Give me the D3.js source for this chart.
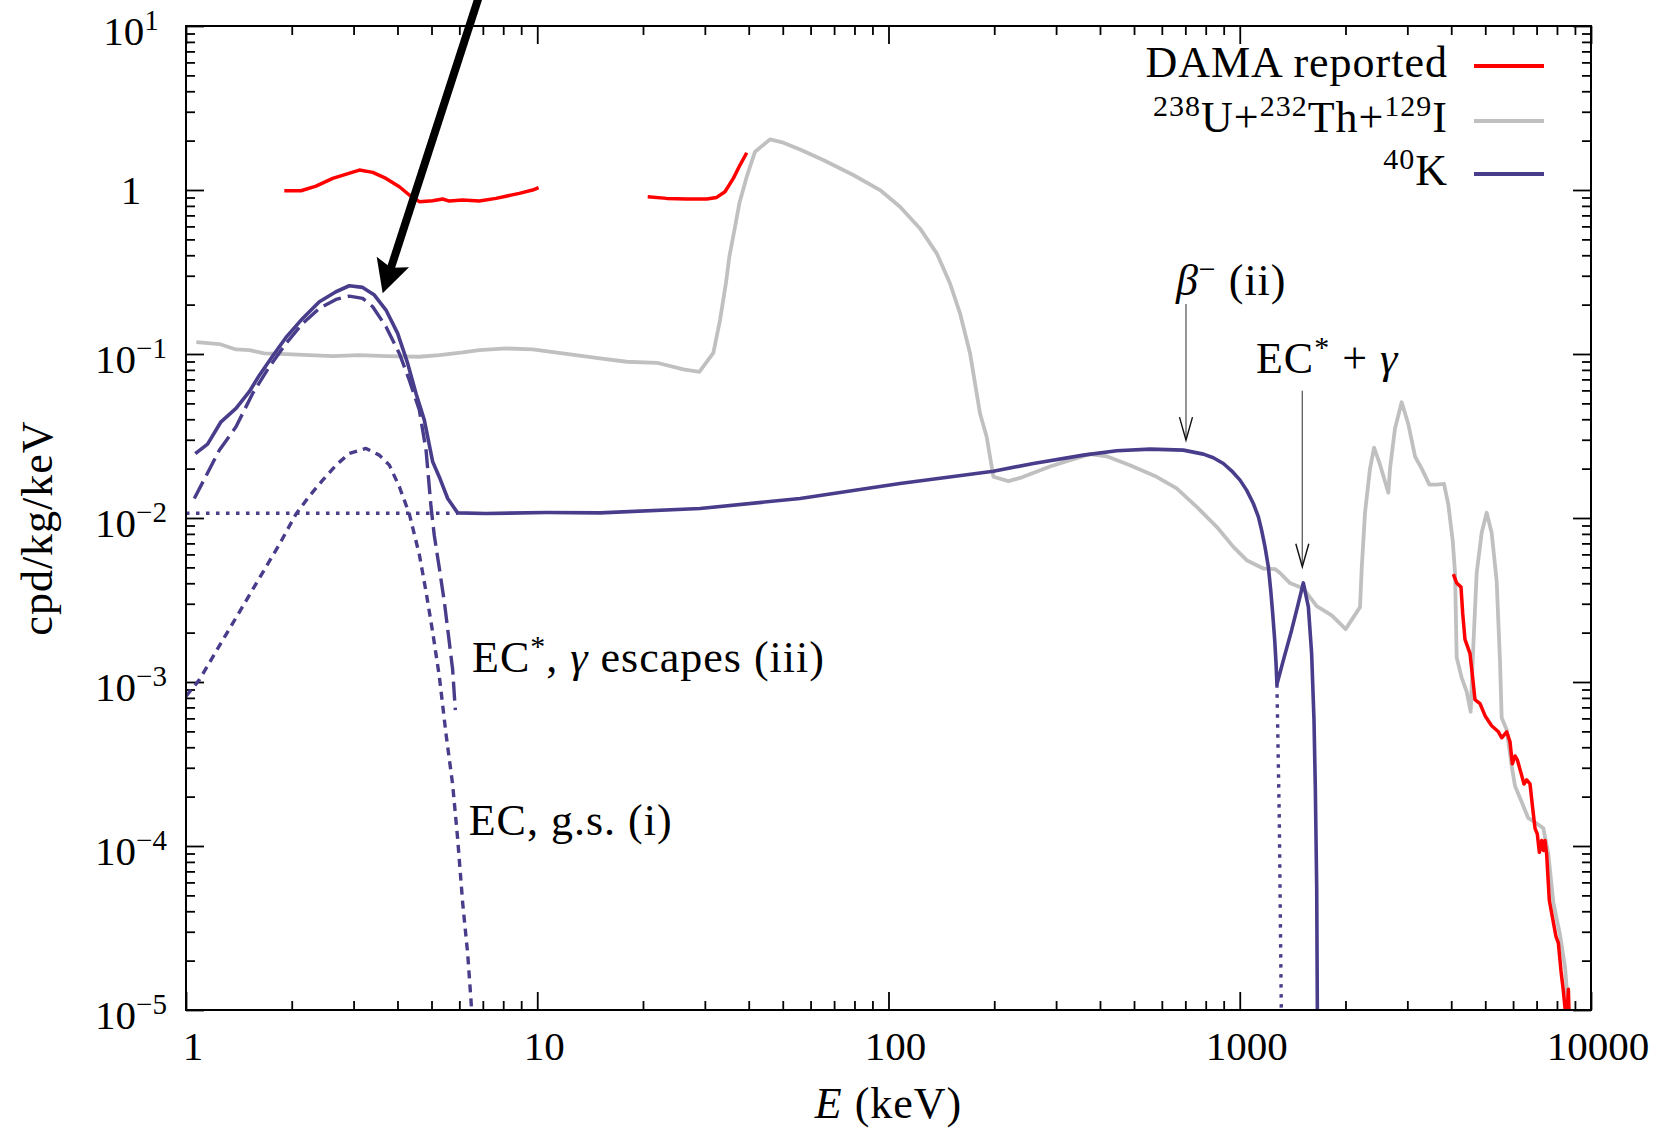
<!DOCTYPE html>
<html>
<head>
<meta charset="utf-8">
<script src="https://cdn.jsdelivr.net/npm/d3@7"></script>
<style>
  html, body { margin: 0; padding: 0; background: #fff; }
  svg { display: block; font-family: "Liberation Serif", "DejaVu Serif", serif; }
</style>
</head>
<body>
<script>
// ---- data (E in keV, rate in cpd/kg/keV) ----
const damaLow = [[1.905,0.990],[2.125,0.990],[2.345,1.057],[2.616,1.177],[3.116,1.323],[3.401,1.281],
  [3.71,1.177],[4.05,1.047],[4.323,0.932],[4.616,0.849],[5.039,0.860],[5.379,0.881],[5.62,0.856],
  [6.133,0.868],[6.84,0.856],[7.63,0.889],[8.89,0.954],[9.70,0.999],[10.09,1.033]];
const damaMid = [[20.63,0.910],[23.36,0.889],[26.63,0.881],[30.37,0.881],[32.42,0.901],[34.23,0.976],
  [36.16,1.177],[37.78,1.419],[39.48,1.688]];
const damaHigh = [[4056,0.00454],[4147,0.00401],[4265,0.00379],[4312,0.00263],[4377,0.00182],[4523,0.001494],
  [4603,0.001065],[4674,0.000781],[4831,0.000738],[4992,0.000623],[5214,0.000541],[5449,0.000497],
  [5568,0.000457],[5754,0.000497],[5880,0.000432],[5970,0.000317],[6077,0.000354],[6171,0.000335],
  [6307,0.000283],[6447,0.000239],[6560,0.000253],[6705,0.000239],[6823,0.00017],[6928,0.000128],
  [7034,0.000118],[7127,0.0000915],[7238,0.000108],[7317,0.000094],[7396,0.000108],[7478,0.0000889],
  [7610,0.0000465],[7778,0.0000361],[7950,0.000028],[8072,0.0000257],[8214,0.0000173],[8342,0.0000131],
  [8452,0.0000098],[8560,0.0000098],[8620,0.0000134],[8680,0.000008]];

const uThI = [[1.07,0.118],[1.244,0.115],[1.388,0.1066],[1.514,0.1057],[1.671,0.1008],[1.926,0.0999],
  [2.616,0.0971],[3.116,0.0985],[3.71,0.0971],[4.616,0.0962],[5.262,0.0985],[6.133,0.1022],[6.84,0.1057],
  [8.15,0.1081],[9.70,0.1066],[15.09,0.0939],[17.97,0.0897],[21.9,0.0884],[26.06,0.0805],[28.94,0.0779],
  [31.72,0.1017],[33.14,0.161],[34.46,0.272],[35.23,0.392],[36.57,0.597],[37.62,0.829],[39.48,1.205],
  [41.69,1.712],[46.0,2.035],[50.2,1.943],[56.0,1.768],[65.2,1.523],[79.4,1.234],[94.6,0.999],
  [107.8,0.791],[122.9,0.583],[137.2,0.411],[149.7,0.269],[159.8,0.177],[170.7,0.1008],[182.2,0.0434],
  [190.3,0.0313],[198.9,0.01784],[219.4,0.0168],[240,0.0177],[288.3,0.0206],[328.6,0.02253],
  [374.7,0.02452],[417.9,0.0238],[487,0.0210],[580,0.01784],[661.5,0.01514],[754.2,0.0117],
  [859.7,0.00884],[959,0.00667],[1046,0.00553],[1167,0.00492],[1260,0.00488],[1302,0.00462],
  [1390,0.00401],[1517,0.00372],[1656,0.0029],[1827,0.00255],[2002,0.0021],[2200,0.00286],
  [2224,0.00489],[2273,0.01076],[2349,0.02002],[2412,0.02686],[2507,0.0212],[2649,0.01427],
  [2678,0.02002],[2767,0.0352],[2891,0.0508],[3020,0.03727],[3155,0.02372],[3296,0.02002],
  [3466,0.01599],[3636,0.01599],[3815,0.01617],[3925,0.01205],[4039,0.00726],[4101,0.00462],
  [4146,0.00141],[4283,0.001065],[4426,0.000874],[4544,0.000659],[4624,0.00167],[4726,0.00462],
  [4884,0.00812],[5047,0.01076],[5214,0.00812],[5388,0.00413],[5507,0.001335],[5568,0.000606],
  [5754,0.000511],[5946,0.000308],[6077,0.000232],[6280,0.000196],[6631,0.0001478],[6928,0.0001397],
  [7317,0.0001284],[7560,0.0000889],[7814,0.0000452],[8160,0.0000288],[8433,0.0000183],[8700,0.000008]];

// 40K: total (solid), EC* with gamma escape (dashed), EC to ground state and beta- (dotted)
const k40Total = [[1.063,0.0247],[1.152,0.0282],[1.258,0.0386],[1.388,0.0466],[1.514,0.0589],[1.618,0.0743],
  [1.765,0.0971],[1.926,0.1262],[2.148,0.1648],[2.397,0.2083],[2.673,0.2396],[2.917,0.2607],[3.184,0.2547],
  [3.438,0.2287],[3.71,0.1853],[4.005,0.1335],[4.277,0.0876],[4.517,0.0575],[4.77,0.0395],[5.039,0.022],
  [5.262,0.0178],[5.559,0.01315],[5.934,0.01075],[7.146,0.01066],[10.59,0.0108],[15.09,0.01075],
  [29.07,0.01143],[56.0,0.01315],[107.8,0.01623],[198.9,0.0193],[258.5,0.0215],[358.6,0.02417],
  [446.3,0.02569],[555.3,0.02629],[690.9,0.02593],[787.8,0.02452],[841,0.02329],[898.2,0.0215],
  [948,0.0194],[1001.7,0.01702],[1046,0.01479],[1093,0.01226],[1130,0.01017],[1154,0.00843],
  [1180,0.00667],[1206,0.00504],[1225,0.00363],[1241,0.00262],[1257.5,0.0018],[1268.6,0.0013],
  [1276,0.00097],[1331,0.00136],[1405,0.00207],[1468,0.00301],[1517,0.00402],[1568,0.00287],
  [1602,0.00149],[1627,0.000585],[1641,0.000229],[1656,0.0000563],[1663,0.0000102],[1665,0.000005]];
const k40Escape = [[1.056,0.01315],[1.244,0.0259],[1.388,0.036],[1.548,0.0575],[1.727,0.0836],[1.926,0.116],
  [2.148,0.1536],[2.397,0.1897],[2.673,0.2152],[2.917,0.2255],[3.184,0.2183],[3.401,0.1942],[3.71,0.1466],
  [4.05,0.1008],[4.323,0.0693],[4.616,0.0455],[4.824,0.0259],[4.984,0.0117],[5.093,0.0078],[5.262,0.00495],
  [5.439,0.00308],[5.62,0.00174],[5.743,0.00119],[5.845,0.000674]];
const k40Ground = [[1.0,0.00082],[1.091,0.00103],[1.244,0.00166],[1.419,0.00267],[1.618,0.0043],[1.844,0.0069],
  [2.057,0.01058],[2.244,0.0136],[2.45,0.01702],[2.673,0.021],[2.917,0.02474],[3.254,0.02655],[3.55,0.02417],
  [3.793,0.021],[4.05,0.0155],[4.323,0.01058],[4.616,0.00599],[4.824,0.00355],[5.039,0.00201],
  [5.262,0.001084],[5.498,0.000483],[5.743,0.000237],[5.934,0.000111],[6.133,0.000045],[6.337,0.0000221],
  [6.478,0.0000114],[6.52,0.000009]];
const k40BetaLow = [[1.0,0.0107],[5.93,0.0107]];
const k40BetaEnd = [[1276,0.00097],[1296,0.000144],[1313,0.0000102],[1315,0.000005]];

// tick values
const xMajor = [1, 10, 100, 1000, 10000];
const yMajor = [1e-5, 1e-4, 1e-3, 1e-2, 1e-1, 1, 10];
const yExp = [-5, -4, -3, -2, -1, 0, 1];
const legendLabels = ["DAMA reported", "238U+232Th+129I", "40K"];

// annotation arrows: [E, top value, tip value]
const betaArrow = [703, 0.2016, 0.02985];
const gammaArrow = [1507, 0.0597, 0.00504];
const bigArrow = [[6.92, 16.6], [3.63, 0.2343]];

const width = 1657, height = 1129;
const pLeft = 186, pRight = 1591, pTop = 26, pBottom = 1010;
const blue = "#483d8b", gray = "#c0c0c0", red = "#ff0000";

const x = d3.scaleLog().domain([1, 10000]).range([pLeft, pRight]);
const y = d3.scaleLog().domain([1e-5, 10]).range([pBottom, pTop]);

const minorX = [];
for (let d = 1; d < 10000; d *= 10) for (let k = 2; k <= 9; k++) minorX.push(d * k);
const minorY = [];
for (let e = -5; e < 1; e++) for (let k = 2; k <= 9; k++) minorY.push(k * Math.pow(10, e));

const svg = d3.select('body').append('svg')
  .attr('width', width)
  .attr('height', height);

svg.append('clipPath').attr('id', 'plot')
  .append('rect').attr('x', pLeft).attr('y', pTop)
  .attr('width', pRight - pLeft).attr('height', pBottom - pTop);

// ticks, all pointing inwards
function ticks(axis, tx, ty, values, size) {
  const g = svg.append('g')
    .attr('transform', `translate(${tx},${ty})`)
    .call(axis.tickValues(values).tickSizeInner(-size).tickSizeOuter(0).tickFormat(''));
  g.select('.domain').remove();
  g.selectAll('line').attr('stroke', '#000').attr('stroke-width', 1.8);
  return g;
}
ticks(d3.axisBottom(x), 0, pBottom, xMajor, 18);
ticks(d3.axisBottom(x), 0, pBottom, minorX, 9);
ticks(d3.axisTop(x), 0, pTop, xMajor, 18);
ticks(d3.axisTop(x), 0, pTop, minorX, 9);
ticks(d3.axisLeft(y), pLeft, 0, yMajor, 18);
ticks(d3.axisLeft(y), pLeft, 0, minorY, 9);
ticks(d3.axisRight(y), pRight, 0, yMajor, 18);
ticks(d3.axisRight(y), pRight, 0, minorY, 9);

// x tick labels
svg.append('g').selectAll('text')
  .data(xMajor)
  .enter()
  .append('text')
  .attr('x', d => x(d) + 7)
  .attr('y', pBottom + 50)
  .attr('text-anchor', 'middle')
  .attr('font-size', 41)
  .text(d => d);

// y tick labels with superscript exponent
const yl = svg.append('g').selectAll('text')
  .data(yMajor)
  .enter()
  .append('text')
  .attr('x', pLeft - 55)
  .attr('y', (d, i) => y(d) + (yExp[i] === 0 ? 14 : 19))
  .attr('text-anchor', 'middle')
  .attr('font-size', 41);
yl.each(function(d, i) {
  const t = d3.select(this);
  if (yExp[i] === 0) { t.text('1'); return; }
  t.append('tspan').text('10');
  t.append('tspan').attr('dy', -15).attr('font-size', 29)
    .text(yExp[i] < 0 ? '\u2212' + (-yExp[i]) : yExp[i]);
});

// axis titles
svg.append('text')
  .attr('transform', `translate(52,${(pTop + pBottom) / 2 + 10}) rotate(-90)`)
  .attr('text-anchor', 'middle')
  .attr('font-size', 44)
  .attr('letter-spacing', 1)
  .text('cpd/kg/keV');
const xt = svg.append('text')
  .attr('x', (pLeft + pRight) / 2)
  .attr('y', 1118)
  .attr('text-anchor', 'middle')
  .attr('font-size', 44)
  .attr('letter-spacing', 1);
xt.append('tspan').attr('font-style', 'italic').text('E');
xt.append('tspan').text(' (keV)');

// curves
const line = d3.line().x(d => x(d[0])).y(d => y(d[1]));
const curves = svg.append('g').attr('clip-path', 'url(#plot)')
  .attr('fill', 'none').attr('stroke-linejoin', 'round');

curves.append('path').attr('d', line(uThI)).attr('stroke', gray).attr('stroke-width', 3.8);
curves.append('path').attr('d', line(k40BetaLow)).attr('stroke', blue).attr('stroke-width', 3.4)
  .attr('stroke-dasharray', '3.5,6.5');
curves.append('path').attr('d', line(k40BetaEnd)).attr('stroke', blue).attr('stroke-width', 3.4)
  .attr('stroke-dasharray', '3.5,6.5');
curves.append('path').attr('d', line(k40Ground)).attr('stroke', blue).attr('stroke-width', 3.4)
  .attr('stroke-dasharray', '8,6');
curves.append('path').attr('d', line(k40Escape)).attr('stroke', blue).attr('stroke-width', 3.4)
  .attr('stroke-dasharray', '19,7');
curves.append('path').attr('d', line(k40Total)).attr('stroke', blue).attr('stroke-width', 3.6);
[damaLow, damaMid, damaHigh].forEach(s => {
  curves.append('path').attr('d', line(s)).attr('stroke', red).attr('stroke-width', 3.5);
});

// frame
svg.append('rect')
  .attr('x', pLeft).attr('y', pTop)
  .attr('width', pRight - pLeft).attr('height', pBottom - pTop)
  .attr('fill', 'none').attr('stroke', '#000').attr('stroke-width', 2);

// thin annotation arrows
function thinArrow(a) {
  const px = x(a[0]), y1 = y(a[1]), y2 = y(a[2]);
  svg.append('line').attr('x1', px).attr('x2', px).attr('y1', y1).attr('y2', y2 - 2)
    .attr('stroke', '#666').attr('stroke-width', 1.4);
  svg.append('path')
    .attr('d', `M${px - 6.5},${y2 - 23}L${px},${y2}L${px + 6.5},${y2 - 23}`)
    .attr('fill', 'none').attr('stroke', '#111').attr('stroke-width', 1.4);
}
thinArrow(betaArrow);
thinArrow(gammaArrow);

// thick black arrow
{
  const x0 = x(bigArrow[0][0]), y0 = y(bigArrow[0][1]);
  const x1 = x(bigArrow[1][0]), y1 = y(bigArrow[1][1]);
  const len = Math.hypot(x1 - x0, y1 - y0);
  const dx = (x1 - x0) / len, dy = (y1 - y0) / len;
  const nx = -dy, ny = dx;
  svg.append('line')
    .attr('x1', x0).attr('y1', y0)
    .attr('x2', x1 - 26 * dx).attr('y2', y1 - 26 * dy)
    .attr('stroke', '#000').attr('stroke-width', 8);
  const pts = [
    [x1, y1],
    [x1 - 33 * dx + 17 * nx, y1 - 33 * dy + 17 * ny],
    [x1 - 27 * dx, y1 - 27 * dy],
    [x1 - 33 * dx - 17 * nx, y1 - 33 * dy - 17 * ny]
  ];
  svg.append('path').attr('d', 'M' + pts.join('L') + 'Z').attr('fill', '#000');
}

// annotation text
function label(E, v, parts) {
  const t = svg.append('text')
    .attr('x', x(E)).attr('y', y(v))
    .attr('font-size', 44).attr('letter-spacing', 1);
  parts.forEach(p => {
    const s = t.append('tspan').text(p.t);
    if (p.it) s.attr('font-style', 'italic');
    if (p.sup) s.attr('dy', -16).attr('font-size', 30);
    if (p.down) s.attr('dy', 16);
  });
}
label(658, 0.2288, [{t: '\u03b2', it: true}, {t: '\u2212', sup: true}, {t: ' (ii)', down: true}]);
label(1112, 0.0765, [{t: 'EC'}, {t: '*', sup: true}, {t: ' + ', down: true}, {t: '\u03b3', it: true}]);
label(6.52, 0.001148, [{t: 'EC'}, {t: '*', sup: true}, {t: ', ', down: true}, {t: '\u03b3', it: true},
  {t: ' escapes (iii)'}]);
label(6.38, 0.0001163, [{t: 'EC, g.s. (i)'}]);

// legend
const legendColors = [red, gray, blue];
const legendY = [77, 132, 185];
legendLabels.forEach((name, i) => {
  const t = svg.append('text')
    .attr('x', 1448).attr('y', legendY[i])
    .attr('text-anchor', 'end')
    .attr('font-size', 44).attr('letter-spacing', 1);
  // superscripted mass numbers
  const parts = name.match(/\d+|[^\d]+/g);
  let raised = false;
  parts.forEach(p => {
    const s = t.append('tspan').text(p);
    if (/\d/.test(p)) { s.attr('dy', -16).attr('font-size', 30); raised = true; }
    else if (raised) { s.attr('dy', 16); raised = false; }
  });
  svg.append('line')
    .attr('x1', 1474).attr('x2', 1544)
    .attr('y1', legendY[i] - 11).attr('y2', legendY[i] - 11)
    .attr('stroke', legendColors[i]).attr('stroke-width', 3.8);
});
</script>
</body>
</html>
